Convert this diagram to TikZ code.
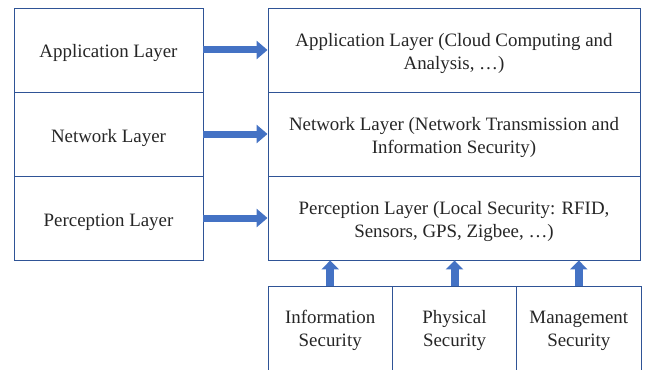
\documentclass[tikz,border=0pt]{standalone}
\usepackage{fontspec}
\setmainfont{Liberation Serif}
\usetikzlibrary{arrows.meta}
\definecolor{bordc}{HTML}{2F5496}
\definecolor{arrc}{HTML}{4472C4}
\newcommand\twolines[2]{\begin{tabular}[t]{@{}c@{}}#1\\#2\end{tabular}}
\begin{document}
\begin{tikzpicture}[x=1pt,y=-1pt,
  box/.style={draw=bordc, line width=0.9pt, rectangle, inner sep=0pt},
  leftbox/.style={box, minimum width=189pt, minimum height=84pt},
  rightbox/.style={box, minimum width=372pt, minimum height=84pt},
  secbox/.style={box, minimum width=124.3pt, minimum height=88pt},
  txt/.style={anchor=base, inner sep=0pt, text=black!85,
    font=\fontsize{18.9}{23}\selectfont},
  harrow/.style={arrc, line width=7pt, -{Triangle[length=11pt,width=18pt]}},
  varrow/.style={arrc, line width=8pt, -{Triangle[length=9pt,width=17pt]}}]
\clip (0,0) rectangle (647,369);
\fill[white] (0,0) rectangle (647,369);
% left column
\node[leftbox] (L1) at (108.5,50) {};
\node[leftbox] (L2) at (108.5,134) {};
\node[leftbox] (L3) at (108.5,218) {};
\node[txt] (L1t) at (108.5,58) {Application Layer};
\node[txt] (L2t) at (108.5,142) {Network Layer};
\node[txt] (L3t) at (108.5,226) {Perception Layer};
% right column
\node[rightbox] (R1) at (454,50) {};
\node[rightbox] (R2) at (454,134) {};
\node[rightbox] (R3) at (454,218) {};
\node[txt] (R1t) at (454,46.8) {\twolines{Application Layer (Cloud Computing and}{Analysis, \ldots)}};
\node[txt] (R2t) at (454,130.8) {\twolines{Network Layer (Network Transmission and}{Information Security)}};
\node[txt] (R3t) at (454,214.8) {\twolines{Perception Layer (Local Security: RFID,}{Sensors, GPS, Zigbee, \ldots)}};
% bottom boxes
\node[secbox] (B1) at (330.2,330) {};
\node[secbox] (B2) at (454.5,330) {};
\node[secbox] (B3) at (578.8,330) {};
\node[txt] (B1t) at (330.2,323.5) {\twolines{Information}{Security}};
\node[txt] (B2t) at (454.5,323.5) {\twolines{Physical}{Security}};
\node[txt] (B3t) at (578.8,323.5) {\twolines{Management}{Security}};
% horizontal arrows
\draw[harrow] (L1.east) -- (R1.west);
\draw[harrow] (L2.east) -- (R2.west);
\draw[harrow] (L3.east) -- (R3.west);
% vertical arrows
\draw[varrow] (B1.north) -- (B1.north |- R3.south);
\draw[varrow] (B2.north) -- (B2.north |- R3.south);
\draw[varrow] (B3.north) -- (B3.north |- R3.south);
\end{tikzpicture}
\end{document}
